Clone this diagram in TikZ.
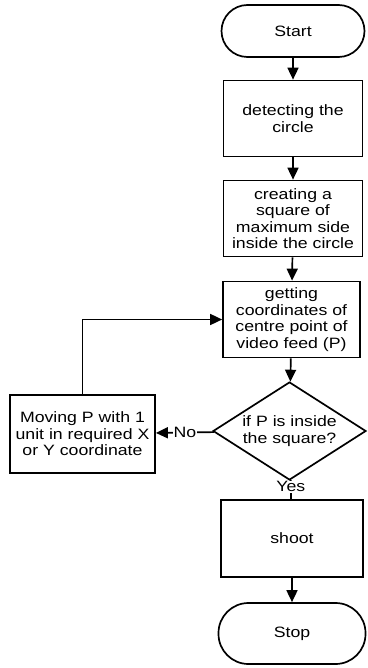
\documentclass[tikz,border=0pt]{standalone}
\usepackage{fontspec}
\setmainfont{Liberation Sans}[FakeStretch=1.18]
\usetikzlibrary{shapes.geometric, arrows.meta}
\tikzstyle{startstop} = [rectangle, rounded corners=26pt, minimum width=143pt, minimum height=52pt, text centered, draw=black, fill=white]
\tikzstyle{process} = [rectangle, minimum width=139pt, minimum height=76pt, text centered, align=center, draw=black, fill=white]
\tikzstyle{decision} = [diamond, aspect=1.56, minimum width=153pt, minimum height=98pt, inner sep=0pt, align=center, draw=black, fill=white]
\tikzstyle{arrow} = [-{Triangle[length=12pt,width=11pt]}]

\begin{document}
\begin{tikzpicture}[x=1pt, y=-1pt, node distance=100pt, line width=1.7pt, font=\fontsize{15pt}{16.5pt}\selectfont]
	\useasboundingbox (0,0) rectangle (367,668);
	% flow chart nodes
	\node (ST) [startstop] at (293,31) {Start};
	\node (DET) [process, below of=ST, yshift=12.5pt] {detecting the\\circle};
	\node (SQ) [process, below of=DET] {creating a\\square of\\maximum side\\inside the circle};
	\node (GET) [process, below of=SQ, yshift=-1pt, xshift=-1.5pt, minimum width=137pt] {getting\\coordinates of\\centre point of\\video feed (P)};
	\node (DEC) [decision, below of=GET, yshift=-11.5pt, xshift=-2pt] {if P is inside\\the square?};
	\node (MOV) [process, left of=DEC, xshift=-107pt, yshift=-3pt, minimum width=145pt, minimum height=78pt] {Moving P with 1\\unit in required X\\or Y coordinate};
	\node (SH) [process, below of=DEC, yshift=-7.5pt, xshift=2.5pt, minimum width=142pt, minimum height=77pt] {shoot};
	\node (SP) [startstop, below of=SH, yshift=5pt, rounded corners=30pt, minimum width=147pt, minimum height=61pt] {Stop};
	\draw [arrow] (ST) -- (DET);
	\draw [arrow] (DET) -- (SQ);
	\draw [arrow] (SQ) -- (GET);
	\draw [arrow] (GET) -- (DEC);
	\draw [arrow] (DEC) -- node[fill=white, inner sep=1pt] {No} (MOV);
	\draw [arrow] (MOV.north) |- (GET.west);
	\draw (DEC) -- node[fill=white, inner sep=1pt, pos=0.35] {Yes} (SH);
	\draw [arrow] (SH) -- (SP);
\end{tikzpicture}
\end{document}
